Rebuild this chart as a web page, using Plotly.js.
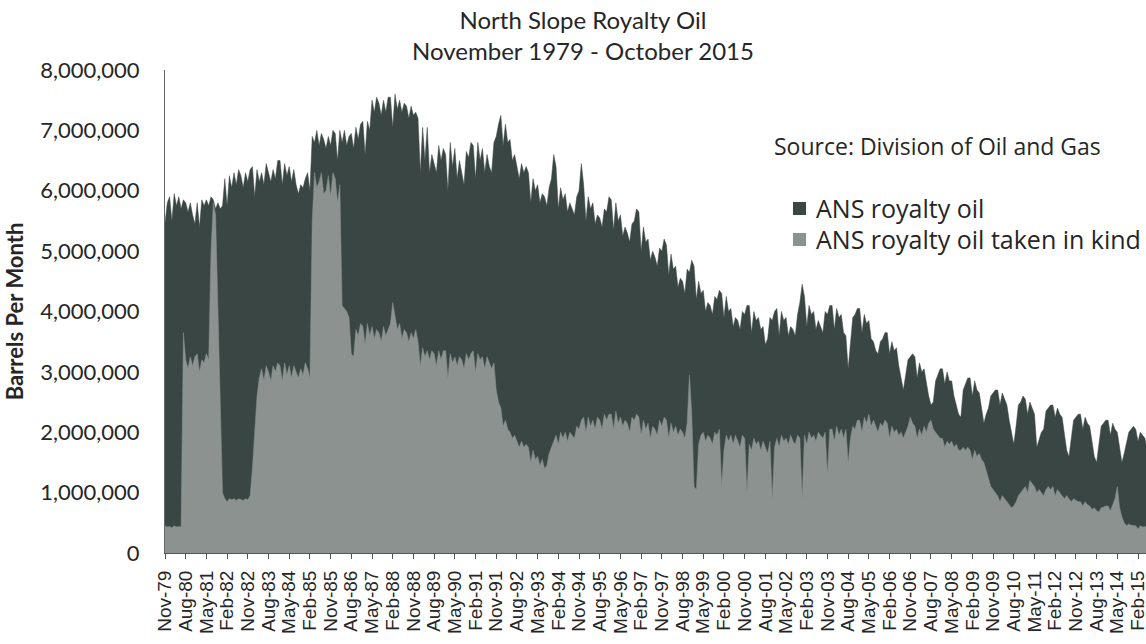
<!DOCTYPE html>
<html>
<head>
<meta charset="utf-8">
<script src="https://cdn.plot.ly/plotly-3.0.1.min.js"></script>
<style>
  html, body { margin: 0; padding: 0; background: #ffffff; }
  #chart { width: 1146px; height: 644px; }
</style>
</head>
<body>
<div id="chart"></div>
<script>
// ---------------- DATA (thousand barrels per month) ----------------
// Series start in November 1979 and run monthly to October 2015.
const startYear = 1979;
const startMonthIndex = 10; // November (0 = January)
const monthNames = ['Jan','Feb','Mar','Apr','May','Jun','Jul','Aug','Sep','Oct','Nov','Dec'];

const tickLabels = [
  'Nov-79','Aug-80','May-81','Feb-82','Nov-82','Aug-83','May-84','Feb-85','Nov-85','Aug-86',
  'May-87','Feb-88','Nov-88','Aug-89','May-90','Feb-91','Nov-91','Aug-92','May-93','Feb-94',
  'Nov-94','Aug-95','May-96','Feb-97','Nov-97','Aug-98','May-99','Feb-00','Nov-00','Aug-01',
  'May-02','Feb-03','Nov-03','Aug-04','May-05','Feb-06','Nov-06','Aug-07','May-08','Feb-09',
  'Nov-09','Aug-10','May-11','Feb-12','Nov-12','Aug-13','May-14','Feb-15'
];

// ANS royalty oil (total), thousand barrels
const ansRoyaltyOil = [
  5460, 5800,                                                            // 1979 Nov-Dec
  5900, 5500, 5950, 5750, 5900, 5700, 5850, 5800, 5650, 5800, 5600, 5450, // 1980
  5800, 5400, 5850, 5750, 5850, 5750, 5900, 5850, 5700, 5800, 5700, 5750, // 1981
  6200, 5750, 6250, 6050, 6300, 6100, 6350, 6250, 6050, 6300, 6150, 6350, // 1982
  6400, 5900, 6350, 6150, 6300, 6100, 6450, 6300, 6150, 6350, 6200, 6500, // 1983
  6500, 6100, 6450, 6250, 6400, 6150, 6350, 6100, 5950, 6100, 6050, 6200, // 1984
  6300, 6000, 6900, 6800, 7000, 6750, 6950, 6850, 6700, 6900, 6750, 7000, // 1985
  6950, 6500, 7000, 6800, 7000, 6750, 6900, 6950, 6700, 7050, 6850, 7100, // 1986
  7150, 6600, 7150, 7000, 7500, 7300, 7550, 7450, 7250, 7500, 7300, 7550, // 1987
  7550, 7050, 7600, 7350, 7500, 7300, 7450, 7400, 7200, 7400, 7250, 7300, // 1988
  7200, 6300, 7050, 6500, 7050, 6300, 6600, 6450, 6300, 6750, 6500, 6700, // 1989
  6600, 6000, 6800, 6400, 6700, 6200, 6500, 6300, 6100, 6650, 6550, 6800, // 1990
  6750, 6200, 6800, 6500, 6700, 6300, 6600, 6400, 6300, 6800, 6900, 7100, // 1991
  7250, 6750, 7100, 6800, 6850, 6500, 6600, 6400, 6200, 6450, 6300, 6400, // 1992
  6300, 5800, 6200, 6000, 6100, 5800, 5950, 5900, 5750, 6050, 6200, 6600, // 1993
  6400, 5700, 6050, 5850, 5950, 5650, 5800, 5700, 5600, 5900, 6000, 6450, // 1994
  6100, 5500, 5900, 5700, 5800, 5450, 5600, 5550, 5400, 5700, 5650, 5900, // 1995
  5850, 5350, 5800, 5500, 5600, 5250, 5400, 5300, 5150, 5450, 5500, 5700, // 1996
  5650, 5000, 5400, 5150, 5200, 4850, 5000, 4900, 4750, 5050, 5000, 5200, // 1997
  5100, 4600, 4950, 4700, 4750, 4400, 4550, 4500, 4300, 4700, 4650, 4850, // 1998
  4750, 4200, 4500, 4300, 4350, 4000, 4150, 4100, 3950, 4250, 4200, 4350, // 1999
  4300, 3900, 4250, 4000, 4050, 3750, 3900, 3850, 3700, 4000, 3950, 4100, // 2000
  4100, 3650, 4000, 3850, 3900, 3700, 3750, 3450, 3550, 3900, 3850, 4000, // 2001
  4050, 3600, 4000, 3850, 3900, 3600, 3750, 3700, 3600, 3950, 4150, 4450, // 2002
  4250, 3750, 4100, 3950, 4000, 3700, 3850, 3750, 3650, 4000, 3950, 4100, // 2003
  4100, 3700, 4050, 3900, 3950, 3650, 3600, 3050, 3500, 3900, 3950, 4050, // 2004
  4050, 3650, 3950, 3800, 3850, 3550, 3500, 3350, 3300, 3500, 3550, 3650, // 2005
  3650, 3300, 3500, 3350, 3400, 3100, 2900, 2700, 2950, 3200, 3250, 3300, // 2006
  3250, 2900, 3150, 3000, 3050, 2800, 2600, 2450, 2500, 2850, 2950, 3050, // 2007
  3050, 2800, 3000, 2850, 2850, 2600, 2450, 2300, 2250, 2700, 2800, 2900, // 2008
  2900, 2600, 2850, 2700, 2650, 2400, 2150, 2300, 2400, 2600, 2650, 2700, // 2009
  2700, 2450, 2650, 2550, 2450, 2200, 2000, 1800, 2100, 2450, 2500, 2600, // 2010
  2550, 2300, 2500, 2400, 2300, 1750, 1900, 2000, 2050, 2350, 2400, 2450, // 2011
  2450, 2250, 2400, 2300, 2250, 2000, 1700, 1600, 1900, 2200, 2250, 2300, // 2012
  2300, 2050, 2250, 2150, 2100, 1850, 1600, 1500, 1800, 2100, 2150, 2200, // 2013
  2200, 1950, 2150, 2050, 2000, 1750, 1500, 1650, 1800, 2000, 2050, 2100, // 2014
  2050, 1850, 2000, 1950, 1900, 1700, 1500, 1550, 1700, 1850              // 2015 Jan-Oct
];

// ANS royalty oil taken in kind, thousand barrels
const ansTakenInKind = [
  450, 430,                                                              // 1979 Nov-Dec
  440, 420, 450, 430, 440, 430, 3650, 3200, 3050, 3250, 3100, 3250,       // 1980
  3300, 3000, 3200, 3150, 3300, 3200, 5000, 5800, 5600, 4200, 2500, 1000, // 1981
  900, 850, 900, 880, 900, 870, 900, 890, 870, 900, 880, 950,             // 1982
  1400, 2000, 2600, 2900, 3050, 2850, 3100, 3000, 2850, 3100, 3000, 3150, // 1983
  3100, 2850, 3150, 2950, 3100, 2900, 3100, 3000, 2900, 3050, 2950, 3150, // 1984
  3050, 2900, 5500, 6300, 6050, 6150, 6300, 5950, 6000, 6250, 5900, 6300, // 1985
  6200, 5800, 6100, 4100, 4050, 4000, 3900, 3300, 3250, 3700, 3600, 3800, // 1986
  3750, 3450, 3800, 3600, 3750, 3550, 3700, 3650, 3500, 3750, 3600, 3700, // 1987
  3800, 4150, 3900, 3700, 3800, 3550, 3700, 3650, 3500, 3650, 3550, 3700, // 1988
  3500, 3100, 3400, 3250, 3350, 3200, 3350, 3300, 3100, 3350, 3200, 3350, // 1989
  3350, 2900, 3300, 3150, 3250, 3100, 3250, 3200, 3050, 3300, 3200, 3300, // 1990
  3350, 3000, 3300, 3200, 3250, 3050, 3250, 3150, 3050, 3150, 2700, 2500, // 1991
  2400, 2100, 2200, 2050, 2000, 1900, 1950, 1850, 1750, 1850, 1750, 1800, // 1992
  1750, 1500, 1700, 1550, 1600, 1450, 1550, 1400, 1450, 1650, 1750, 1850, // 1993
  1950, 1800, 2000, 1900, 2000, 1850, 2000, 1950, 1900, 2100, 2050, 2200, // 1994
  2250, 2000, 2250, 2100, 2200, 2050, 2250, 2200, 2050, 2300, 2200, 2300, // 1995
  2300, 2050, 2350, 2150, 2250, 2100, 2200, 2150, 2000, 2250, 2200, 2300, // 1996
  2250, 1950, 2200, 2050, 2150, 1900, 2100, 2050, 1950, 2200, 2100, 2250, // 1997
  2200, 1900, 2150, 2000, 2100, 1950, 2050, 2000, 1900, 2150, 2950, 2300, // 1998
  1100, 1050, 1800, 1950, 2000, 1850, 1950, 1900, 1800, 2000, 1950, 2050, // 1999
  1100, 1700, 1950, 1850, 1950, 1800, 1950, 1850, 1750, 1950, 1900, 1000, // 2000
  1800, 1700, 1900, 1800, 1850, 1700, 1850, 1750, 1650, 1850, 900, 1750,  // 2001
  1900, 1750, 1950, 1850, 1900, 1800, 1950, 1850, 1800, 1950, 1900, 900,  // 2002
  1950, 1800, 2000, 1900, 1950, 1850, 2000, 1950, 1900, 2000, 1300, 2050, // 2003
  2050, 1850, 2100, 1950, 2050, 1900, 2050, 1500, 1900, 2100, 2050, 2200, // 2004
  2200, 2000, 2250, 2150, 2300, 2100, 2200, 2100, 2000, 2150, 2100, 2200, // 2005
  2150, 1900, 2100, 2000, 2050, 1950, 2000, 1900, 2000, 2100, 2250, 2150, // 2006
  2100, 1900, 2050, 1950, 2100, 2000, 2150, 2200, 2050, 2000, 1950, 1900, // 2007
  1900, 1750, 1850, 1800, 1850, 1750, 1800, 1700, 1700, 1750, 1700, 1750, // 2008
  1700, 1550, 1700, 1600, 1650, 1550, 1500, 1350, 1200, 1100, 1050, 1000, // 2009
  950, 850, 950, 900, 850, 800, 750, 780, 850, 950, 1000, 1050,           // 2010
  1100, 1000, 1200, 1150, 1100, 1000, 1050, 1000, 950, 1050, 1100, 1050,  // 2011
  1100, 950, 1050, 1000, 950, 900, 950, 900, 850, 900, 880, 850,          // 2012
  850, 780, 850, 800, 780, 720, 750, 700, 680, 750, 760, 780,             // 2013
  780, 700, 800, 900, 1100, 750, 600, 500, 450, 480, 460, 450,            // 2014
  450, 400, 450, 430, 440, 420, 400, 410, 400, 420                        // 2015 Jan-Oct
];

const seriesNames = ['ANS royalty oil', 'ANS royalty oil taken in kind'];
const seriesColors = ['#3a4643', '#8b9290'];

// ---------------- BUILD ----------------
const monthLabels = ansRoyaltyOil.map((_, i) => {
  const mi = startMonthIndex + i;
  const y = startYear + Math.floor(mi / 12);
  return monthNames[mi % 12] + '-' + String(y % 100).padStart(2, '0');
});
const toBarrels = v => v * 1000;

const traces = [
  {
    type: 'scatter', mode: 'lines', name: seriesNames[0],
    x: monthLabels, y: ansRoyaltyOil.map(toBarrels),
    fill: 'tozeroy', fillcolor: seriesColors[0],
    line: { color: seriesColors[0], width: 0.5 },
    hoverinfo: 'x+y'
  },
  {
    type: 'scatter', mode: 'lines', name: seriesNames[1],
    x: monthLabels, y: ansTakenInKind.map(toBarrels),
    fill: 'tozeroy', fillcolor: seriesColors[1],
    line: { color: seriesColors[1], width: 0.5 },
    hoverinfo: 'x+y'
  }
];

const W = 1146, H = 644;
const L = 165, R = 0, T = 70, B = 91;
const pw = W - L - R, ph = H - T - B;
const px = x => (x - L) / pw;        // pixel -> paper x
const py = y => (H - B - y) / ph;    // pixel -> paper y

const textColor = '#262626';

const layout = {
  width: W, height: H,
  margin: { l: L, r: R, t: T, b: B, pad: 0 },
  paper_bgcolor: '#ffffff', plot_bgcolor: '#ffffff',
  showlegend: false,
  font: { family: 'Lato, sans-serif', color: textColor },
  title: {
    text: 'North Slope Royalty Oil<br>November 1979 - October 2015',
    font: { family: 'Lato, sans-serif', size: 24, color: textColor },
    xref: 'container', x: 583 / W, xanchor: 'center',
    yref: 'container', y: 1 - 29 / H, yanchor: 'top'
  },
  xaxis: {
    type: 'category',
    range: [0, (W - L) / (973 / 423)],
    tickmode: 'array', tickvals: tickLabels, ticktext: tickLabels,
    tickangle: -90,
    tickfont: { family: 'Liberation Sans, Arial, sans-serif', size: 19, color: textColor },
    ticks: 'outside', ticklen: 5, tickwidth: 1, tickcolor: '#555555',
    ticklabelstandoff: 4,
    showline: true, linecolor: '#555555', linewidth: 1,
    showgrid: false, zeroline: false, fixedrange: true
  },
  yaxis: {
    range: [0, 8000000],
    dtick: 1000000, tickformat: ',d',
    tickfont: { family: 'Lato, sans-serif', size: 22, color: textColor },
    ticks: 'outside', ticklen: 20, tickcolor: 'rgba(0,0,0,0)',
    showline: true, linecolor: '#666666', linewidth: 1,
    showgrid: false, zeroline: false, fixedrange: true,
    title: {
      text: 'Barrels Per Month',
      font: { family: 'Lato, sans-serif', size: 22, color: textColor, weight: 700 },
      standoff: 10
    }
  },
  shapes: [
    { type: 'rect', xref: 'paper', yref: 'paper', x0: px(793), x1: px(806), y0: py(215), y1: py(202),
      fillcolor: seriesColors[0], line: { width: 0 } },
    { type: 'rect', xref: 'paper', yref: 'paper', x0: px(793), x1: px(806), y0: py(246), y1: py(233),
      fillcolor: seriesColors[1], line: { width: 0 } }
  ],
  annotations: [
    { text: 'Source: Division of Oil and Gas', xref: 'paper', yref: 'paper',
      x: px(772), y: py(146), xanchor: 'left', yanchor: 'middle', showarrow: false,
      font: { family: 'Open Sans, sans-serif', size: 23, color: textColor } },
    { text: seriesNames[0], xref: 'paper', yref: 'paper',
      x: px(814), y: py(208), xanchor: 'left', yanchor: 'middle', showarrow: false,
      font: { family: 'Open Sans, sans-serif', size: 25, color: textColor } },
    { text: seriesNames[1], xref: 'paper', yref: 'paper',
      x: px(814), y: py(239), xanchor: 'left', yanchor: 'middle', showarrow: false,
      font: { family: 'Open Sans, sans-serif', size: 25, color: textColor } }
  ]
};

Plotly.newPlot('chart', traces, layout, { staticPlot: true, displayModeBar: false });
</script>
</body>
</html>
